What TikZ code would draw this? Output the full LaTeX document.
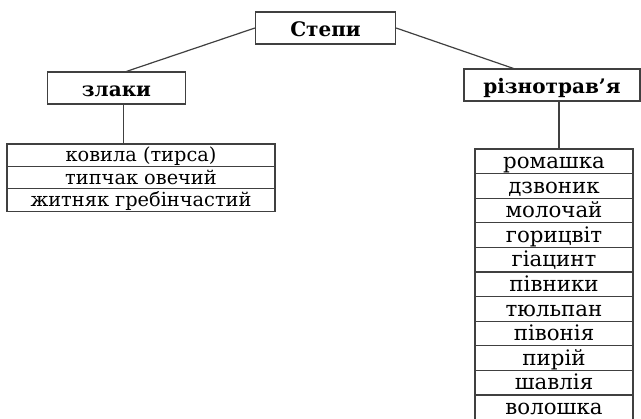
\documentclass[tikz,border=0pt]{standalone}
\usepackage{fontspec}
\setmainfont{DejaVu Serif}
\usetikzlibrary{positioning}

\begin{document}
\begin{tikzpicture}[x=0.75pt,y=-0.75pt,
  line width=0.9pt,
  head/.style={draw=black!75, font=\bfseries\fontsize{15}{17}\selectfont,
    text height=18.3pt, text depth=5.7pt, inner sep=0pt},
  grain/.style={draw=black!75, font=\fontsize{14.5}{16}\selectfont,
    minimum width=201pt, text height=13.2pt, text depth=3.6pt, inner sep=0pt, outer sep=0pt},
  herb/.style={draw=black!75, font=\fontsize{16}{18}\selectfont,
    minimum width=118.5pt, text height=14.65pt, text depth=3.8pt, inner sep=0pt, outer sep=0pt}]
\useasboundingbox (0,0) rectangle (641,418);
% headings
\node[head, minimum width=105pt] (steppe) at (325.5,28) {Степи};
\node[head, minimum width=104pt] (grains) at (116.5,88) {злаки};
\node[head, minimum width=132pt] (herbs) at (552,85) {різнотрав’я};
% grass list
\node[grain] (g1) at (141,155.2) {ковила (тирса)};
\foreach \t [count=\i from 2] in {типчак овечий, житняк гребінчастий} {
  \pgfmathtruncatemacro\prev{\i-1}
  \node[grain, below=0pt of g\prev] (g\i) {\t};
}
% herb list
\node[herb] (h1) at (554,161.3) {ромашка};
\foreach \t [count=\i from 2] in {дзвоник, молочай, горицвіт, гіацинт, півники,
    тюльпан, півонія, пирій, шавлія, волошка} {
  \pgfmathtruncatemacro\prev{\i-1}
  \node[herb, below=0pt of h\prev] (h\i) {\t};
}
% connectors
\draw[black!75] (steppe.west) -- ([xshift=7.5pt]grains.north);
\draw[black!75] (steppe.east) -- ([xshift=-29pt]herbs.north);
\coordinate (gl) at ([xshift=5pt]grains.south);
\coordinate (hl) at ([xshift=5.25pt]herbs.south);
\draw[black!75] (gl) -- (gl |- g1.north);
\draw[black!75] (hl) -- (hl |- h1.north);
\end{tikzpicture}
\end{document}
